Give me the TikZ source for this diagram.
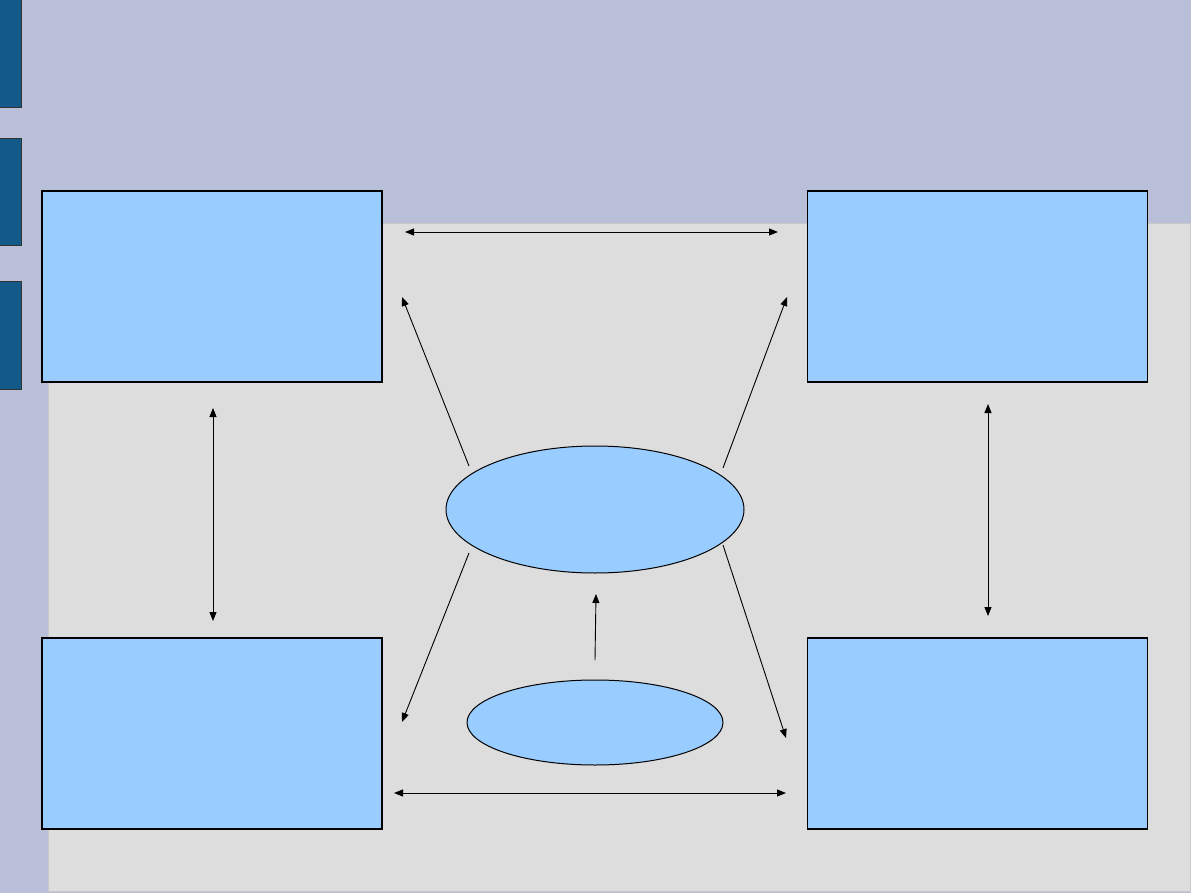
\documentclass[tikz,border=0pt]{standalone}
\usetikzlibrary{arrows.meta,shapes.geometric}

\definecolor{slideLav}{HTML}{B9BED9}
\definecolor{slideGrey}{HTML}{DDDDDD}
\definecolor{slideEdge}{HTML}{C8C8C8}
\definecolor{barBlue}{HTML}{135A8A}
\definecolor{boxBlue}{HTML}{99CCFF}

\begin{document}
\begin{tikzpicture}
    [x=1pt, y=-1pt,
    BoxNode/.style={rectangle, draw=black, line width=1.2pt, fill=boxBlue, minimum width=340pt, minimum height=191pt, inner sep=0pt},
    HubNode/.style={ellipse, draw=black, line width=1pt, fill=boxBlue, inner sep=0pt},
    SideBar/.style={draw=black!80, line width=1pt, fill=barBlue},
    Link/.style={line width=0.9pt, -{Triangle[length=9pt, width=7pt]}},
    TwoLink/.style={line width=0.9pt, {Triangle[length=9pt, width=7pt]}-{Triangle[length=9pt, width=7pt]}}]
    \useasboundingbox (0,0) rectangle (1191,893);
    % slide background
    \fill[slideLav] (0,0) rectangle (1191,893);
    \filldraw[fill=slideGrey, draw=slideEdge, line width=1pt] (48.5,224) rectangle (1190,891);
    \filldraw[SideBar] (-2,-2) rectangle (21,107.5);
    \filldraw[SideBar] (-2,138.5) rectangle (21,245.5);
    \filldraw[SideBar] (-2,281.5) rectangle (21,389);
    % boxes and hubs
    \node[BoxNode] (tl) at (212, 286.5){};
    \node[BoxNode] (tr) at (977.5, 286.5){};
    \node[BoxNode] (bl) at (212, 733.5){};
    \node[BoxNode] (br) at (977.5, 733.5){};
    \node[HubNode, minimum width=298pt, minimum height=127pt] (hub) at (595, 509.5){};
    \node[HubNode, minimum width=256pt, minimum height=85pt] (src) at (595, 722.5){};
    % arrow ends
    \coordinate (topL) at (405, 232);
    \coordinate (topR) at (778, 232);
    \coordinate (botL) at (394, 793);
    \coordinate (botR) at (786, 793);
    \coordinate (lftT) at (213, 408);
    \coordinate (lftB) at (213, 621);
    \coordinate (rgtT) at (988, 404);
    \coordinate (rgtB) at (988, 616);
    \coordinate (hubNW) at (469, 466);
    \coordinate (hubNE) at (723, 468);
    \coordinate (hubSW) at (469, 553);
    \coordinate (hubSE) at (723, 545);
    \coordinate (toTL) at (402, 297);
    \coordinate (toTR) at (787, 297);
    \coordinate (toBL) at (402, 722);
    \coordinate (toBR) at (786, 738);
    \coordinate (srcN) at (595, 660);
    \coordinate (hubS) at (596, 594);
    % connectors
    \draw[TwoLink] (topL) -- (topR);
    \draw[TwoLink] (botL) -- (botR);
    \draw[TwoLink] (lftT) -- (lftB);
    \draw[TwoLink] (rgtT) -- (rgtB);
    \draw[Link] (hubNW) -- (toTL);
    \draw[Link] (hubNE) -- (toTR);
    \draw[Link] (hubSW) -- (toBL);
    \draw[Link] (hubSE) -- (toBR);
    \draw[Link] (srcN) -- (hubS);
\end{tikzpicture}
\end{document}
